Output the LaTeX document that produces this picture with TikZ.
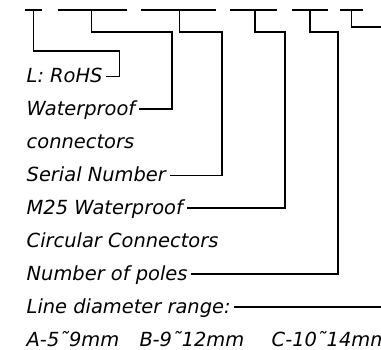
\documentclass[tikz,border=0pt]{standalone}
\usepackage{fontspec}
\setmainfont{DejaVu Sans}
\begin{document}
\begin{tikzpicture}[x=1bp,y=-1bp, line width=1.4bp,
  lbl/.style={anchor=base west, inner sep=0pt, font=\fontsize{19.5}{19.5}\selectfont\itshape},
  dashline/.style={draw, line width=1.4bp},
  conn/.style={draw, line width=1.4bp}]
\useasboundingbox (0,0) rectangle (381,350);
% labels
\node[lbl] (t1) at (26,82.5) {L: RoHS};
\node[lbl] (t2) at (26,115) {Waterproof};
\node[lbl] (t3) at (26,148) {connectors};
\node[lbl] (t4) at (26,181.5) {Serial Number};
\node[lbl] (t5) at (26,214) {M25 Waterproof};
\node[lbl] (t6) at (26,247) {Circular Connectors};
\node[lbl] (t7) at (26,280) {Number of poles};
\node[lbl] (t8) at (26,313) {Line diameter range:};
\node[lbl] (ta) at (26,346) {A-5˜9mm};
\node[lbl] (tb) at (139,346) {B-9˜12mm};
\node[lbl] (tc) at (271,346) {C-10˜14mm};
% dashes
\draw[dashline] (25,10) -- (42,10);
\draw[dashline] (57.7,10) -- (126.7,10);
\draw[dashline] (141,10) -- (216,10);
\draw[dashline] (230,10) -- (277,10);
\draw[dashline] (291.7,10) -- (328,10);
\draw[dashline] (340,10) -- (363,10);
% dash taps
\coordinate (p1) at (33.3,10);
\coordinate (p2) at (91.7,10);
\coordinate (p3) at (179.3,10);
\coordinate (p4) at (255,10);
\coordinate (p5) at (310,10);
\coordinate (p6) at (351.7,10);
% text ends
\coordinate (e1) at ([shift={(3,-6)}]t1.base east);
\coordinate (e2) at ([shift={(3,-6)}]t2.base east);
\coordinate (e4) at ([shift={(3,-6)}]t4.base east);
\coordinate (e5) at ([shift={(3,-6)}]t5.base east);
\coordinate (e7) at ([shift={(3,-6)}]t7.base east);
\coordinate (e8) at ([shift={(3,-6)}]t8.base east);
\coordinate (r6) at (381,27);
\coordinate (r8) at (381,0);
% connectors
\draw[conn] (p1) |- (119.5,51) |- (e1);
\draw[conn] (p2) |- (172,32) |- (e2);
\draw[conn] (p3) |- (222,32) |- (e4);
\draw[conn] (p4) |- (285,32) |- (e5);
\draw[conn] (p5) |- (338,32) |- (e7);
\draw[conn] (p6) |- (r6);
\draw[conn] (e8) -- (e8 -| r8);
\end{tikzpicture}
\end{document}
